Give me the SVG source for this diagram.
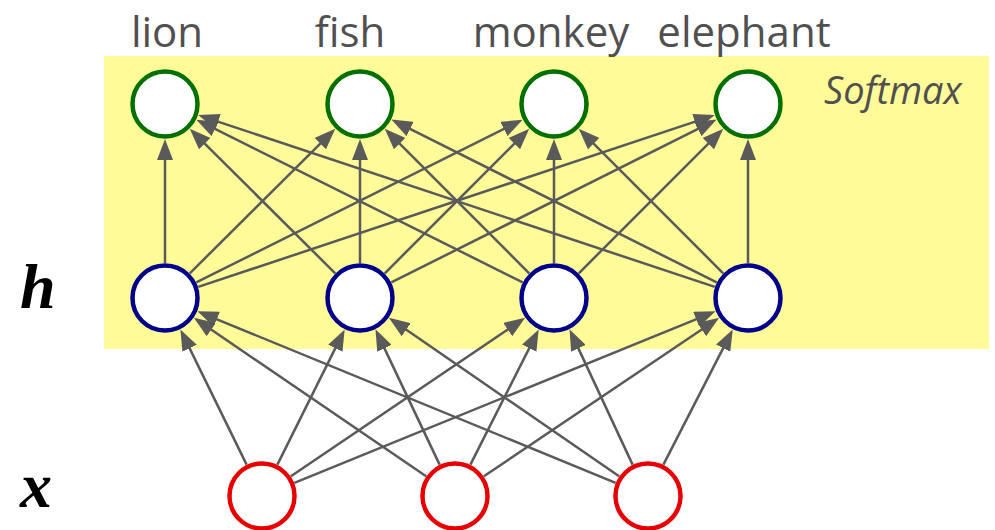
<svg xmlns="http://www.w3.org/2000/svg" width="995" height="530" viewBox="0 0 995 530">
  <style>
    .label { font-family: "Open Sans", "Liberation Sans", sans-serif; font-size: 42px; fill: #505050; text-anchor: middle; }
    .note { font-family: "Open Sans", "Liberation Sans", sans-serif; font-style: italic; font-size: 38px; fill: #505050; }
    .sym { font-family: "Liberation Serif", serif; font-style: italic; font-weight: bold; font-size: 64px; fill: #000; }
    .edge { stroke: #5a5a5a; stroke-width: 2.5; fill: none; marker-end: url(#arrow); }
    .node { fill: #fff; stroke-width: 4.5; }
    .out { stroke: #007000; }
    .hid { stroke: #00008b; }
    .inp { stroke: #e60000; }
  </style>
  <defs>
    <marker id="arrow" markerUnits="userSpaceOnUse" markerWidth="22" markerHeight="16" refX="13" refY="8" orient="auto">
      <path d="M0,0 L21,8 L0,16 z" fill="#5a5a5a"/>
    </marker>
  </defs>

  <rect id="softmax-band" x="104" y="56" width="885" height="293" fill="#fffb99"/>

  <g id="labels">
    <text class="label" x="167" y="47">lion</text>
    <text class="label" x="350" y="47">fish</text>
    <text class="label" x="551" y="47">monkey</text>
    <text class="label" x="744" y="47">elephant</text>
    <text class="note" x="824" y="104">Softmax</text>
    <text class="sym" x="20" y="308">h</text>
    <text class="sym" x="20" y="507">x</text>
  </g>

  <g id="connectors">
    <!-- hidden to output -->
    <path class="edge" d="M165 263 L165 147"/>
    <path class="edge" d="M189.8 273.3 L329.6 134.4"/>
    <path class="edge" d="M196.3 282.4 L515.5 123.2"/>
    <path class="edge" d="M198.2 286.9 L707.2 117.6"/>
    <path class="edge" d="M335.2 273.3 L195.4 134.4"/>
    <path class="edge" d="M360 263 L360 147"/>
    <path class="edge" d="M384.8 273.3 L523.6 134.4"/>
    <path class="edge" d="M391.3 282.4 L709.5 123.2"/>
    <path class="edge" d="M522.7 282.4 L203.5 123.2"/>
    <path class="edge" d="M529.2 273.3 L390.4 134.4"/>
    <path class="edge" d="M554 263 L554 147"/>
    <path class="edge" d="M578.8 273.3 L717.6 134.4"/>
    <path class="edge" d="M714.8 286.9 L205.8 117.6"/>
    <path class="edge" d="M716.7 282.4 L398.5 123.2"/>
    <path class="edge" d="M723.2 273.3 L584.4 134.4"/>
    <path class="edge" d="M748 263 L748 147"/>
    <!-- input to hidden -->
    <path class="edge" d="M246.6 464.6 L183.9 336.6"/>
    <path class="edge" d="M277.4 464.6 L341.1 336.6"/>
    <path class="edge" d="M290.9 476.3 L518.5 322.3"/>
    <path class="edge" d="M294.4 482.8 L708.2 314.3"/>
    <path class="edge" d="M426.1 476.3 L200.5 322.3"/>
    <path class="edge" d="M439.6 464.6 L378.9 336.6"/>
    <path class="edge" d="M470.4 464.6 L535.1 336.6"/>
    <path class="edge" d="M483.9 476.3 L712.5 322.3"/>
    <path class="edge" d="M615.6 482.8 L204.8 314.3"/>
    <path class="edge" d="M619.1 476.3 L395.5 322.3"/>
    <path class="edge" d="M632.6 464.6 L572.9 336.6"/>
    <path class="edge" d="M663.4 464.6 L729.1 336.6"/>
  </g>

  <g id="out-lion"><circle class="node out" cx="165" cy="104" r="32.5"/></g>
  <g id="out-fish"><circle class="node out" cx="360" cy="104" r="32.5"/></g>
  <g id="out-monkey"><circle class="node out" cx="554" cy="104" r="32.5"/></g>
  <g id="out-elephant"><circle class="node out" cx="748" cy="104" r="32.5"/></g>

  <g id="h1"><circle class="node hid" cx="165" cy="298" r="32.5"/></g>
  <g id="h2"><circle class="node hid" cx="360" cy="298" r="32.5"/></g>
  <g id="h3"><circle class="node hid" cx="554" cy="298" r="32.5"/></g>
  <g id="h4"><circle class="node hid" cx="748" cy="298" r="32.5"/></g>

  <g id="x1"><circle class="node inp" cx="262" cy="496" r="32.5"/></g>
  <g id="x2"><circle class="node inp" cx="455" cy="496" r="32.5"/></g>
  <g id="x3"><circle class="node inp" cx="648" cy="496" r="32.5"/></g>
</svg>
